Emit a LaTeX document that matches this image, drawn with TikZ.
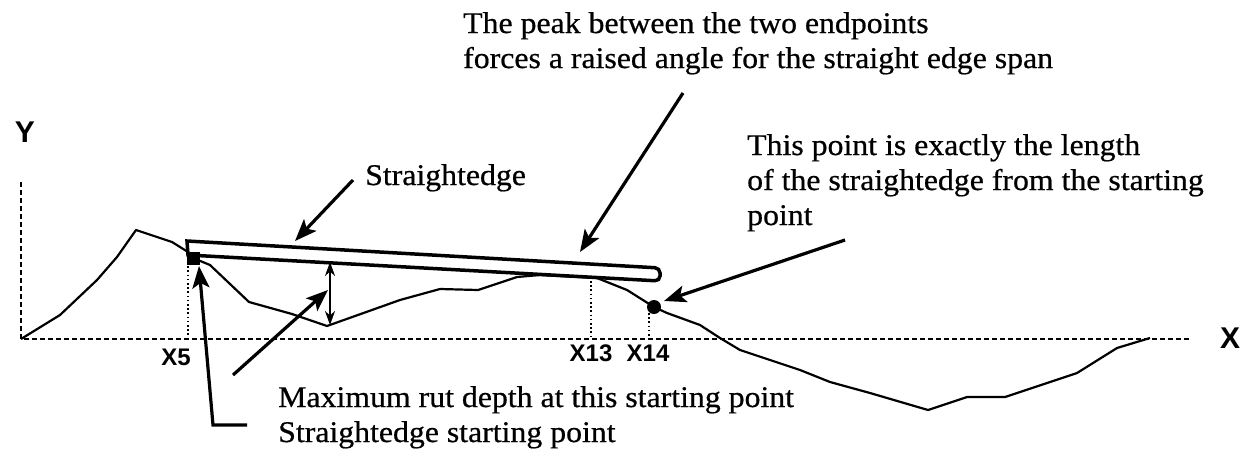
\documentclass[tikz,border=0pt]{standalone}
\usepackage{fontspec}
\setmainfont{Liberation Serif}[FakeStretch=1.06,FakeBold=0.6]
\newfontfamily\axfont{Liberation Sans}
\usetikzlibrary{arrows.meta}
\begin{document}
\begin{tikzpicture}[x=1pt,y=-1pt,
  lbl/.style={anchor=base west, inner sep=0pt, font=\fontsize{30}{35}\selectfont},
  axlbl/.style={inner sep=0pt, font=\axfont\bfseries\fontsize{30}{30}\selectfont},
  xlbl/.style={inner sep=0pt, font=\axfont\bfseries\fontsize{24}{24}\selectfont},
  axisline/.style={line width=1.5pt, dash pattern=on 5pt off 3pt},
  guide/.style={line width=1.4pt, dash pattern=on 1.6pt off 2.6pt},
  profile/.style={line width=2.2pt, line join=round},
  pointer/.style={line width=3.2pt, -{Stealth[length=22pt,width=17pt,inset=5pt]}},
  rut/.style={line width=2pt, {Stealth[length=14pt,width=10pt]}-{Stealth[length=14pt,width=10pt]}},
  edgebar/.style={line width=3.5pt, line join=miter}
]
\useasboundingbox (0,0) rectangle (1253,456);

% axes
\coordinate (origin) at (21,339);
\coordinate (ytop) at (21,182);
\coordinate (xend) at (1190,339);
\draw[axisline] (ytop) -- (origin) -- (xend);
\node[axlbl] (ylab) at (25,132) {Y};
\node[axlbl] (xlab) at (1230,338) {X};

% marked points
\node[fill=black, minimum size=13pt, inner sep=0pt] (start) at (193,258) {};
\node[circle, fill=black, minimum size=14pt, inner sep=0pt] (endpt) at (654,307) {};

% profile
\draw[profile] (origin) -- (60,315) -- (97,280) -- (117,257) -- (136,230) -- (172,242)
  -- (188,252) -- (start.center) -- (210,265) -- (249,302) -- (292,314) -- (327,326)
  -- (400,300) -- (440,289) -- (478,290) -- (517,277) -- (540,275) -- (597,278)
  -- (627,290) -- (endpt.center) -- (667,313) -- (700,325) -- (720,338) -- (740,350)
  -- (800,370) -- (830,382) -- (870,393) -- (928,410) -- (967,397) -- (1005,397)
  -- (1077,373) -- (1117,348) -- (1150,338);

% straightedge
\coordinate (seA) at (187,241);
\coordinate (seB) at (660,268);
\coordinate (seC) at (660,281);
\coordinate (seD) at (188,255);
\draw[edgebar] (seD) -- (seA) [rounded corners=5pt] -- (seB) -- (seC) [sharp corners] -- cycle;

% guide lines
\coordinate (g5t) at (188,262);  \coordinate (g5b) at (188,339);
\coordinate (g13t) at (591,281); \coordinate (g13b) at (591,339);
\coordinate (g14t) at (649,313); \coordinate (g14b) at (649,339);
\draw[guide] (g5t) -- (g5b);
\draw[guide] (g13t) -- (g13b);
\draw[guide] (g14t) -- (g14b);
\node[xlbl] (x5) at (176,357) {X5};
\node[xlbl] (x13) at (591,353) {X13};
\node[xlbl] (x14) at (648,353) {X14};

% rut depth
\coordinate (rutTop) at (330,262);
\coordinate (rutBot) at (330,325);
\draw[rut] (rutTop) -- (rutBot);

% labels
\node[lbl] (peakA) at (463,33) {The peak between the two endpoints};
\node[lbl] (peakB) at (463,68) {forces a raised angle for the straight edge span};
\node[lbl] (seLbl) at (365,185) {Straightedge};
\node[lbl] (thisA) at (747,155) {This point is exactly the length};
\node[lbl] (thisB) at (747,190) {of the straightedge from the starting};
\node[lbl] (thisC) at (747,225) {point};
\node[lbl] (rutLbl) at (278,407) {Maximum rut depth at this starting point};
\node[lbl] (startLbl) at (278,442) {Straightedge starting point};

% pointers
\coordinate (seTail) at (353,180);   \coordinate (seTip) at (295,241);
\coordinate (peakTail) at (683,93);  \coordinate (peakTip) at (580,252);
\coordinate (thisTail) at (845,240); \coordinate (thisTip) at (664,301);
\coordinate (rutTail) at (233,375);  \coordinate (rutTip) at (328,290);
\coordinate (stTail) at (247,425);   \coordinate (stBend) at (213,425);
\coordinate (stTip) at (199,266);
\draw[pointer] (seTail) -- (seTip);
\draw[pointer] (peakTail) -- (peakTip);
\draw[pointer] (thisTail) -- (thisTip);
\draw[pointer] (rutTail) -- (rutTip);
\draw[pointer, line join=miter] (stTail) -- (stBend) -- (stTip);
\end{tikzpicture}
\end{document}
